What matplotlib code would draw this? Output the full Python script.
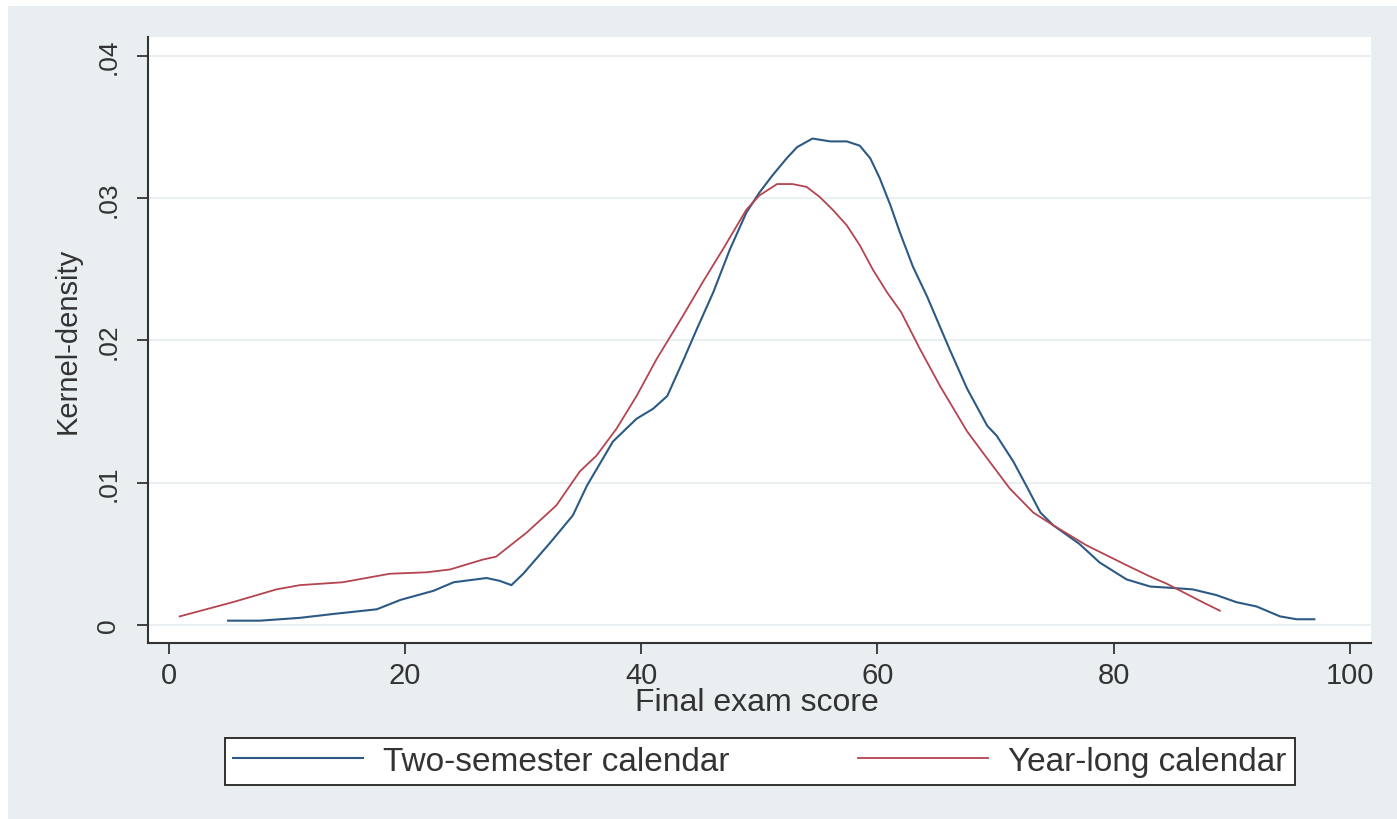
import matplotlib
matplotlib.use("Agg")
import matplotlib.pyplot as plt
from matplotlib.patches import Rectangle

plt.rcParams['font.family'] = ['Liberation Sans', 'DejaVu Sans']

# kernel density
two_sem_x = [5.0, 7.7, 11.1, 13.9, 17.6, 19.6, 22.4, 24.1, 26.9, 28.0, 29.0, 30.0,
             32.3, 34.2, 35.4, 37.6, 39.6, 41.0, 42.2, 43.5, 44.7, 46.1, 47.5, 48.9,
             50.0, 51.1, 52.3, 53.2, 54.5, 56.0, 57.4, 58.5, 59.4, 60.2, 61.1, 61.9,
             63.0, 64.2, 66.1, 67.6, 69.3, 70.1, 71.5, 72.6, 73.8, 74.9, 77.1, 78.8,
             81.1, 83.1, 85.0, 86.7, 88.7, 90.4, 92.1, 94.1, 95.5, 97.0]
two_sem_y = [0.0003, 0.0003, 0.0005, 0.00077, 0.0011, 0.00176, 0.0024, 0.0030, 0.0033,
             0.0031, 0.0028, 0.0036, 0.0058, 0.0077, 0.0098, 0.0129, 0.0145, 0.0152,
             0.0161, 0.0185, 0.0208, 0.0234, 0.0264, 0.0290, 0.0304, 0.0316, 0.0328,
             0.0336, 0.0342, 0.0340, 0.0340, 0.0337, 0.0328, 0.0314, 0.0295, 0.0276,
             0.0252, 0.0231, 0.0194, 0.0166, 0.0140, 0.0133, 0.0115, 0.0098, 0.0079,
             0.0070, 0.0057, 0.0044, 0.0032, 0.0027, 0.0026, 0.0025, 0.0021, 0.0016,
             0.0013, 0.0006, 0.0004, 0.0004]

year_x = [0.9, 5.4, 9.1, 11.1, 14.7, 18.7, 21.8, 23.8, 24.6, 26.6, 27.7, 30.3, 32.8,
          34.8, 36.2, 37.9, 39.6, 41.3, 43.5, 45.2, 46.9, 48.9, 50.0, 51.5, 52.8, 54.0,
          55.1, 56.2, 57.4, 58.5, 59.6, 60.8, 62.0, 63.6, 65.3, 67.6, 69.3, 71.2, 73.2,
          74.9, 77.7, 81.1, 83.1, 84.5, 87.3, 89.0]
year_y = [0.0006, 0.0016, 0.0025, 0.0028, 0.0030, 0.0036, 0.0037, 0.0039, 0.0041,
          0.0046, 0.0048, 0.0065, 0.0084, 0.0108, 0.0119, 0.0138, 0.0161, 0.0187,
          0.0217, 0.0241, 0.0264, 0.0292, 0.0302, 0.0310, 0.0310, 0.0308, 0.0301,
          0.0292, 0.0281, 0.0267, 0.0250, 0.0234, 0.0220, 0.0194, 0.0168, 0.0136,
          0.0117, 0.0096, 0.0079, 0.0070, 0.0056, 0.0042, 0.0034, 0.0029, 0.0017,
          0.0010]

xticks = [0, 20, 40, 60, 80, 100]
yticks = [0, 0.01, 0.02, 0.03, 0.04]
ytick_labels = ['0', '.01', '.02', '.03', '.04']

BG = '#e9eef1'
fig = plt.figure(figsize=(13.97, 8.2), dpi=100)
fig.patch.set_facecolor('white')
fig.patches.append(Rectangle((8 / 1397, 0), 1, 813 / 820, transform=fig.transFigure,
                             facecolor=BG, edgecolor='none', zorder=-10))

ax = fig.add_axes([148 / 1397, 176 / 820, 1223 / 1397, 606 / 820])
ax.set_facecolor('white')

ax.plot(two_sem_x, two_sem_y, color='#2c5a85', lw=1.5, label='Two-semester calendar')
ax.plot(year_x, year_y, color='#b4444f', lw=1.3, label='Year-long calendar')

ax.set_xlim(-1.78, 101.8)
ax.set_ylim(-0.00127, 0.04134)
ax.set_xticks(xticks)
ax.set_yticks(yticks)
ax.set_yticklabels(ytick_labels)
ax.grid(axis='y', color='#eaeff2', lw=1.5)
ax.set_axisbelow(True)

for s in ['top', 'right']:
    ax.spines[s].set_visible(False)
for s in ['left', 'bottom']:
    ax.spines[s].set_color('#333333')
    ax.spines[s].set_linewidth(1.5)

ax.tick_params(axis='x', length=8, width=1.3, color='#333333', labelsize=21,
               pad=5, labelcolor='#333333')
ax.tick_params(axis='y', length=8, width=1.3, color='#333333', labelsize=19,
               pad=12, labelrotation=90, labelcolor='#333333')
for lab in ax.get_yticklabels():
    lab.set_va('center')

ax.set_xlabel('Final exam score', fontsize=23, color='#333333', va='center')
ax.xaxis.set_label_coords(0.498, -0.0974)
ax.set_ylabel('Kernel-density', fontsize=21, color='#333333', va='center')
ax.yaxis.set_label_coords(-0.0654, 0.5)

leg = fig.legend(loc='center', bbox_to_anchor=(225 / 1397, 32 / 820, 1070 / 1397, 51 / 820),
                 ncol=2, mode='expand', fontsize=24, handlelength=3.9, handletextpad=0.6,
                 borderpad=0.25, borderaxespad=0, fancybox=False, framealpha=1,
                 edgecolor='#222222')
leg.get_frame().set_linewidth(1.3)
for t in leg.get_texts():
    t.set_color('#333333')

fig.savefig('out.png', dpi=100, facecolor=fig.get_facecolor())
